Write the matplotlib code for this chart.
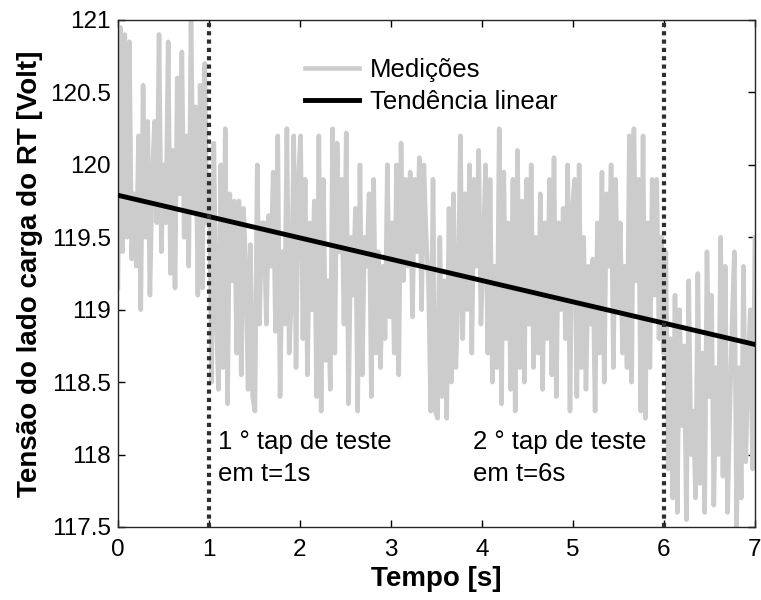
import numpy as np
import matplotlib
matplotlib.use("Agg")
import matplotlib.pyplot as plt

plt.rcParams['font.family'] = ['Liberation Sans', 'DejaVu Sans']

seg_0_1 = [119.15, 120.95, 119.4, 120.9, 119.5, 120.85, 119.35, 119.8, 119.3, 120.2,
           119.0, 120.55, 119.5, 120.3, 119.1, 119.9, 120.3, 119.6, 120.9, 119.4,
           120.0, 119.6, 120.85, 119.25, 120.1, 119.15, 120.6, 119.8, 120.78, 119.5,
           120.2, 119.3, 121.0, 119.7, 120.4, 119.1, 120.55, 119.15, 120.7, 119.6]
seg_1_2 = [119.9, 118.5, 120.15, 119.0, 118.45, 120.0, 118.6, 120.25, 118.35, 119.8,
           119.2, 119.75, 118.7, 119.75, 118.55, 119.7, 119.3, 118.45, 119.45, 118.4,
           118.3, 120.0, 118.9, 119.6, 119.6, 118.9, 119.65, 119.3, 119.95, 118.85,
           120.2, 118.4, 119.4, 118.9, 120.25, 118.7, 119.1, 120.2, 118.6, 119.9]
seg_2_3 = [120.2, 118.8, 119.9, 118.55, 119.6, 119.0, 119.75, 118.4, 120.2, 118.3,
           119.9, 118.65, 119.2, 118.45, 120.25, 118.7, 120.15, 119.4, 119.9, 118.9,
           120.22, 118.35, 119.5, 119.1, 119.7, 118.3, 120.0, 118.55, 119.5, 119.3,
           119.8, 118.4, 119.9, 118.7, 119.4, 118.6, 119.3, 118.8, 120.0, 118.95]
seg_3_4 = [119.6, 118.7, 120.0, 118.55, 120.15, 119.2, 119.9, 119.3, 119.95, 118.95,
           119.9, 119.4, 120.05, 119.0, 120.0, 119.5, 119.2, 118.3, 119.9, 118.3,
           118.25, 119.5, 118.4, 119.2, 118.25, 119.7, 118.5, 119.8, 118.6, 119.1,
           120.2, 118.8, 119.8, 119.0, 120.0, 118.7, 119.9, 119.3, 120.1, 118.9]
seg_4_5 = [119.4, 120.0, 118.7, 119.9, 118.5, 119.3, 118.6, 120.25, 118.35, 119.95,
           118.8, 119.6, 118.45, 119.9, 118.3, 120.1, 118.6, 119.75, 118.5, 119.9,
           118.9, 120.0, 118.6, 119.5, 118.7, 119.8, 118.45, 119.6, 118.8, 119.9,
           118.55, 120.05, 118.4, 119.6, 119.0, 119.7, 118.8, 120.0, 118.3, 119.7]
seg_5_6 = [119.9, 118.4, 120.0, 118.6, 119.5, 118.45, 119.3, 118.9, 119.35, 118.3,
           119.6, 118.7, 119.95, 118.5, 119.8, 119.3, 120.0, 118.6, 119.9, 119.0,
           119.6, 118.7, 119.3, 118.6, 120.2, 118.5, 120.25, 119.2, 119.9, 118.3,
           120.2, 118.25, 119.6, 118.6, 119.9, 119.1, 119.9, 118.8, 119.5, 118.7]
seg_6_7 = [119.4, 117.9, 118.8, 117.7, 119.1, 117.6, 119.0, 118.2, 118.75, 117.55,
           119.2, 118.0, 118.3, 117.7, 119.25, 117.8, 118.7, 117.6, 119.4, 118.4,
           119.1, 117.65, 118.6, 118.0, 119.5, 117.85, 119.3, 117.6, 118.3, 118.9,
           119.4, 117.5, 118.6, 117.7, 119.3, 117.95, 118.6, 119.0, 117.9, 119.5]

medicoes = seg_0_1 + seg_1_2 + seg_2_3 + seg_3_4 + seg_4_5 + seg_5_6 + seg_6_7
t_inicio, t_fim = 0.0, 7.0

# tendência linear (extremos)
trend_t = [0.0, 7.0]
trend_v = [119.79, 118.76]

taps = [1, 6]
tap_labels = ['1 ° tap de teste\nem t=1s', '2 ° tap de teste\nem t=6s']
tap_text_x = [1.1, 3.9]

t = np.linspace(t_inicio, t_fim, len(medicoes))

fig = plt.figure(figsize=(7.61, 6.0), dpi=100)
ax = fig.add_axes([0.155, 0.1217, 0.837, 0.845])

ax.plot(t, medicoes, color='#cccccc', linewidth=3.3, label='Medições', zorder=2)
ax.plot(trend_t, trend_v, color='black', linewidth=3.5, label='Tendência linear', zorder=3)

for tap in taps:
    ax.axvline(tap, color='#2e2e2e', linestyle=(0, (1, 1)), linewidth=3.0, zorder=4)
for x, lab in zip(tap_text_x, tap_labels):
    ax.text(x, 118.17, lab, fontsize=18.5, va='top', ha='left', linespacing=1.4)

ax.set_xlim(0, 7)
ax.set_ylim(117.5, 121)
ax.set_xticks(range(0, 8))
ax.set_yticks([117.5, 118, 118.5, 119, 119.5, 120, 120.5, 121])
ax.set_yticklabels(['117.5', '118', '118.5', '119', '119.5', '120', '120.5', '121'])
ax.tick_params(direction='in', top=True, right=True, labelsize=17.5, length=5, width=1, pad=5)
ax.tick_params(axis='x', pad=9)
for s in ax.spines.values():
    s.set_linewidth(1.0)
    s.set_color('#262626')

ax.set_xlabel('Tempo [s]', fontsize=20, fontweight='bold', labelpad=3)
ax.set_ylabel('Tensão do lado carga do RT [Volt]', fontsize=20, fontweight='bold', labelpad=5)

ax.legend(loc='upper left', bbox_to_anchor=(0.278, 0.945), frameon=False, fontsize=18.5,
          handlelength=2.1, handletextpad=0.4, labelspacing=0.3, borderaxespad=0)

fig.savefig('out.png', dpi=100)
